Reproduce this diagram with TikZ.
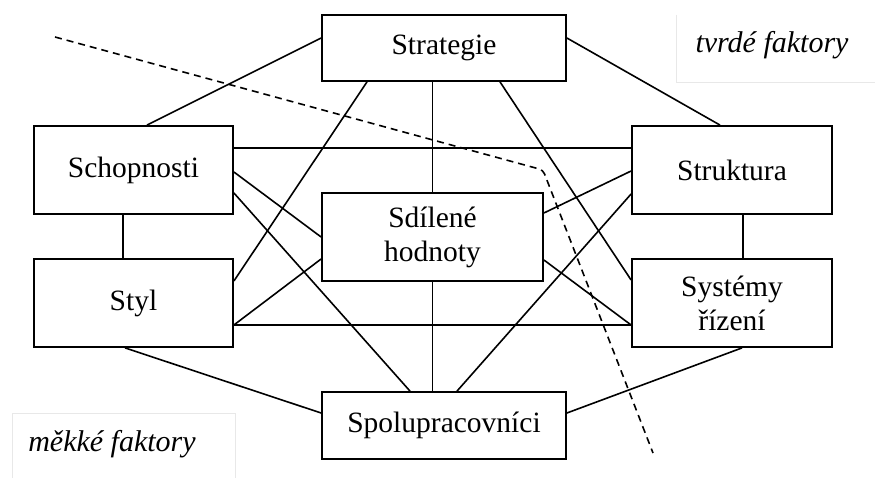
\documentclass[tikz,border=0pt]{standalone}
\usepackage{fontspec}
\setmainfont{Liberation Serif}
\begin{document}
\begin{tikzpicture}[x=1pt,y=-1pt,
  box/.style={draw=black, line width=1.8pt, fill=white, rectangle, inner sep=0pt, align=center,
    font=\fontsize{29.5}{34}\selectfont},
  conn/.style={line width=1.6pt, black},
  divider/.style={line width=1.6pt, dash pattern=on 7pt off 5pt, rounded corners=4pt},
  labelbox/.style={draw=black!9, line width=0.8pt, fill=white},
  lab/.style={font=\fontsize{30}{34}\selectfont\itshape}
]
\useasboundingbox (0,0) rectangle (875,478);
\fill[white] (0,0) rectangle (875,478);
% faint label frames
\draw[labelbox] (676,15) -- (676,82) -- (875,82);
\draw[labelbox] (12,478) -- (12,413) -- (235,413) -- (235,478);
\node[lab] (hard) at (772,45) {tvrdé faktory};
\node[lab] (soft) at (112,444) {měkké faktory};
% dashed divider
\coordinate (d1) at (55,37);
\coordinate (d2) at (543,170);
\coordinate (d3) at (653,453);
\draw[divider] (d1) -- (d2) -- (d3);
% boxes
\node[box, minimum width=244pt, minimum height=66pt] (strat) at (444,48) {Strategie};
\node[box, minimum width=199pt, minimum height=88pt] (schop) at (133.5,170) {Schopnosti};
\node[box, minimum width=199pt, minimum height=88pt] (styl) at (133.5,303) {Styl};
\node[box, minimum width=221pt, minimum height=88pt] (sdil) at (432.5,237) {Sdílené\\hodnoty};
\node[box, minimum width=200pt, minimum height=88pt] (strukt) at (732,170) {Struktura};
\node[box, minimum width=200pt, minimum height=88pt] (sys) at (732,303) {Systémy\\řízení};
\node[box, minimum width=244pt, minimum height=67pt] (spol) at (444,425.5) {Spolupracovníci};
% connectors
\draw[conn] ([yshift=10pt]strat.west) -- ([xshift=13.5pt]schop.north);
\draw[conn] ([xshift=-77pt]strat.south) -- ([yshift=22pt]styl.east);
\draw[conn] (strat.south -| sdil.north) -- (sdil.north);
\draw[conn] ([xshift=56pt]strat.south) -- ([yshift=23pt]sys.west);
\draw[conn] ([yshift=10pt]strat.east) -- ([xshift=-12pt]strukt.north);
\draw[conn] ([yshift=22pt]schop.east) -- ([yshift=22pt]strukt.west);
\draw[conn] ([yshift=-2pt]schop.east) -- (sdil.west);
\draw[conn] ([yshift=-23pt]schop.east) -- ([xshift=-34pt]spol.north);
\draw[conn] ([yshift=-1pt]strukt.west) -- ([yshift=24pt]sdil.east);
\draw[conn] ([yshift=-24pt]strukt.west) -- ([xshift=13pt]spol.north);
\draw[conn] ([yshift=-22pt]styl.east) -- ([yshift=-22pt]sys.west);
\draw[conn] ([yshift=-22pt]styl.east) -- ([yshift=-22pt]sdil.west);
\draw[conn] ([yshift=-23pt]sdil.east) -- ([yshift=-22pt]sys.west);
\draw[conn] (sdil.south) -- (spol.north -| sdil.south);
\draw[conn] ([xshift=-10.5pt]schop.south) -- ([xshift=-10.5pt]styl.north);
\draw[conn] ([xshift=11pt]strukt.south) -- ([xshift=11pt]sys.north);
\draw[conn] ([xshift=-8.5pt]styl.south) -- ([yshift=12.5pt]spol.west);
\draw[conn] ([yshift=12.5pt]spol.east) -- ([xshift=10pt]sys.south);
\end{tikzpicture}
\end{document}
